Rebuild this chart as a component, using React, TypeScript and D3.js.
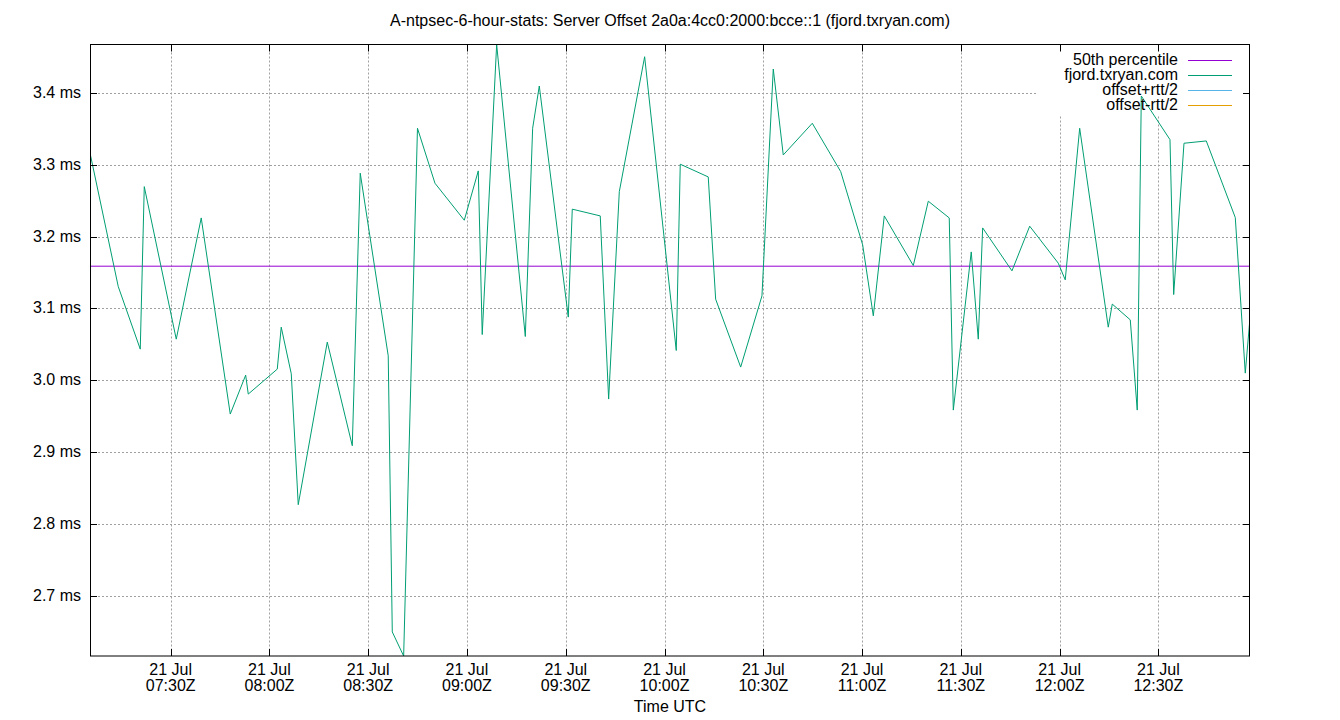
import { useEffect, useRef } from "react";
import * as d3 from "d3";

// sample times (UTC, 21 Jul) and server offset in ms
const sampleTimes = [
  "07:05:30", "07:14:05", "07:20:46", "07:21:59", "07:31:42", "07:39:17", "07:48:06", "07:52:47",
  "07:53:34", "08:02:23", "08:03:35", "08:06:38", "08:08:45", "08:17:34", "08:25:10", "08:27:35",
  "08:36:05", "08:37:19", "08:40:46", "08:44:58", "08:50:17", "08:59:11", "09:03:26", "09:04:38",
  "09:09:01", "09:17:43", "09:19:57", "09:21:58", "09:30:46", "09:31:59", "09:40:29", "09:43:02",
  "09:46:16", "09:53:58", "10:03:34", "10:04:47", "10:13:17", "10:15:32", "10:23:08", "10:29:36",
  "10:33:02", "10:36:04", "10:44:53", "10:53:31", "11:00:11", "11:03:25", "11:06:45", "11:15:34",
  "11:20:07", "11:26:29", "11:27:43", "11:33:10", "11:35:18", "11:36:38", "11:45:32", "11:50:55",
  "11:59:36", "12:01:43", "12:06:06", "12:14:47", "12:16:00", "12:21:28", "12:23:35", "12:24:49",
  "12:33:32", "12:34:39", "12:37:47", "12:44:33", "12:53:22", "12:56:24", "12:57:50",
];

const offsetMs = [
  3.3165, 3.1304, 3.0433, 3.2696, 3.0572, 3.2260, 2.9529, 3.0071,
  2.9807, 3.0155, 3.0739, 3.0090, 2.8267, 3.0531, 2.9088, 3.2883,
  3.0340, 2.6495, 2.6160, 3.3509, 3.2743, 3.2228, 3.2915, 3.0636,
  3.4675, 3.0609, 3.3509, 3.4097, 3.0879, 3.2382, 3.2288, 2.9738,
  3.2626, 3.4505, 3.0414, 3.3008, 3.2831, 3.1129, 3.0183, 3.1175,
  3.4334, 3.3137, 3.3578, 3.2905, 3.1885, 3.0897, 3.2288, 3.1597,
  3.2493, 3.2260, 2.9584, 3.1787, 3.0572, 3.2121, 3.1523, 3.2145,
  3.1630, 3.1398, 3.3509, 3.0739, 3.1060, 3.0841, 2.9584, 3.3958,
  3.3350, 3.1193, 3.3300, 3.3332, 3.2265, 3.0099, 3.0869,
];

const percentile50 = 3.1588;

const yTicks = [2.7, 2.8, 2.9, 3.0, 3.1, 3.2, 3.3, 3.4];
const xTickTimes = ["07:30", "08:00", "08:30", "09:00", "09:30", "10:00", "10:30", "11:00", "11:30", "12:00", "12:30"];

const legendLabels = ["50th percentile", "fjord.txryan.com", "offset+rtt/2", "offset-rtt/2"];
const legendColors = ["#9400d3", "#009e73", "#56b4e9", "#e69f00"];

const W = 1340;
const H = 720;
const FONT = "'Liberation Sans', Arial, sans-serif";

function toDate(s: string) {
  const [h, m, sec] = s.split(":").map(Number);
  return new Date(Date.UTC(2023, 6, 21, h, m, sec || 0));
}

export default function App() {
  const svgRef = useRef<SVGSVGElement>(null);

  useEffect(() => {
    if (!svgRef.current) return;
    const svg = d3.select(svgRef.current);
    svg.selectAll("*").remove();

    const data = sampleTimes.map((t, i) => ({ t: toDate(t), v: offsetMs[i] }));

    const left = 90, right = 1250, top = 44.5, bottom = 656;

    const x = d3
      .scaleUtc()
      .domain(d3.extent(data, (d) => d.t) as [Date, Date])
      .range([left, right]);
    const y = d3
      .scaleLinear()
      .domain(d3.extent(data, (d) => d.v) as [number, number])
      .range([bottom, top]);

    svg.append("rect").attr("width", W).attr("height", H).attr("fill", "white");

    svg
      .append("defs")
      .append("clipPath")
      .attr("id", "plot-clip")
      .append("rect")
      .attr("x", left)
      .attr("y", top)
      .attr("width", right - left)
      .attr("height", bottom - top);

    // grid
    const grid = svg.append("g").attr("stroke", "#a0a0a0").attr("stroke-width", 1).attr("stroke-dasharray", "2,2");
    for (const v of yTicks) {
      const yy = Math.round(y(v)) + 0.5;
      grid.append("line").attr("x1", left).attr("x2", right).attr("y1", yy).attr("y2", yy);
    }
    const xTicks = xTickTimes.map((s) => toDate(s));
    for (const t of xTicks) {
      const xx = Math.round(x(t)) + 0.5;
      grid.append("line").attr("x1", xx).attr("x2", xx).attr("y1", top).attr("y2", bottom);
    }

    // opaque key box
    svg.append("rect").attr("x", 1037).attr("y", top).attr("width", 206).attr("height", 71).attr("fill", "white");

    // series
    const plot = svg.append("g").attr("clip-path", "url(#plot-clip)");
    plot
      .append("line")
      .attr("x1", left)
      .attr("x2", right)
      .attr("y1", y(percentile50))
      .attr("y2", y(percentile50))
      .attr("stroke", legendColors[0])
      .attr("stroke-width", 1);

    const line = d3
      .line<{ t: Date; v: number }>()
      .x((d) => x(d.t))
      .y((d) => y(d.v));
    plot
      .append("path")
      .datum(data)
      .attr("d", line)
      .attr("fill", "none")
      .attr("stroke", legendColors[1])
      .attr("stroke-width", 1);

    // key
    const key = svg.append("g").attr("font-family", FONT).attr("font-size", 16);
    legendLabels.forEach((label, i) => {
      const ly = 60.5 + i * 15;
      key
        .append("text")
        .attr("x", 1178)
        .attr("y", ly + 4)
        .attr("text-anchor", "end")
        .attr("fill", "#000")
        .text(label);
      key
        .append("line")
        .attr("x1", 1188)
        .attr("x2", 1232)
        .attr("y1", ly)
        .attr("y2", ly)
        .attr("stroke", legendColors[i])
        .attr("stroke-width", 1);
    });

    // border + ticks
    const axes = svg.append("g").attr("stroke", "#000").attr("stroke-width", 1);
    axes
      .append("rect")
      .attr("x", left + 0.5)
      .attr("y", top)
      .attr("width", right - left - 1)
      .attr("height", bottom - top)
      .attr("fill", "none");
    for (const v of yTicks) {
      const yy = Math.round(y(v)) + 0.5;
      axes.append("line").attr("x1", left).attr("x2", left + 7).attr("y1", yy).attr("y2", yy);
      axes.append("line").attr("x1", right - 7).attr("x2", right).attr("y1", yy).attr("y2", yy);
    }
    for (const t of xTicks) {
      const xx = Math.round(x(t)) + 0.5;
      axes.append("line").attr("x1", xx).attr("x2", xx).attr("y1", bottom).attr("y2", bottom - 7);
      axes.append("line").attr("x1", xx).attr("x2", xx).attr("y1", top).attr("y2", top + 7);
    }

    // labels
    const labels = svg.append("g").attr("font-family", FONT).attr("font-size", 16).attr("fill", "#000");
    const fmtY = d3.format(".1f");
    for (const v of yTicks) {
      labels
        .append("text")
        .attr("x", 81)
        .attr("y", y(v) + 5)
        .attr("text-anchor", "end")
        .text(`${fmtY(v)} ms`);
    }
    const fmtDay = d3.utcFormat("%d %b");
    const fmtTime = d3.utcFormat("%H:%MZ");
    for (const t of xTicks) {
      const tx = labels.append("text").attr("text-anchor", "middle");
      tx.append("tspan").attr("x", x(t)).attr("y", 675).text(fmtDay(t));
      tx.append("tspan").attr("x", x(t)).attr("y", 690.5).text(fmtTime(t));
    }
    labels
      .append("text")
      .attr("x", 670)
      .attr("y", 711.5)
      .attr("text-anchor", "middle")
      .text("Time UTC");
    labels
      .append("text")
      .attr("x", 670)
      .attr("y", 25.5)
      .attr("text-anchor", "middle")
      .text("A-ntpsec-6-hour-stats: Server Offset 2a0a:4cc0:2000:bcce::1 (fjord.txryan.com)");

    return () => {
      svg.selectAll("*").remove();
    };
  }, []);

  return (
    <svg
      ref={svgRef}
      width={W}
      height={H}
      style={{ position: "absolute", left: 0, top: 0, display: "block" }}
    />
  );
}
